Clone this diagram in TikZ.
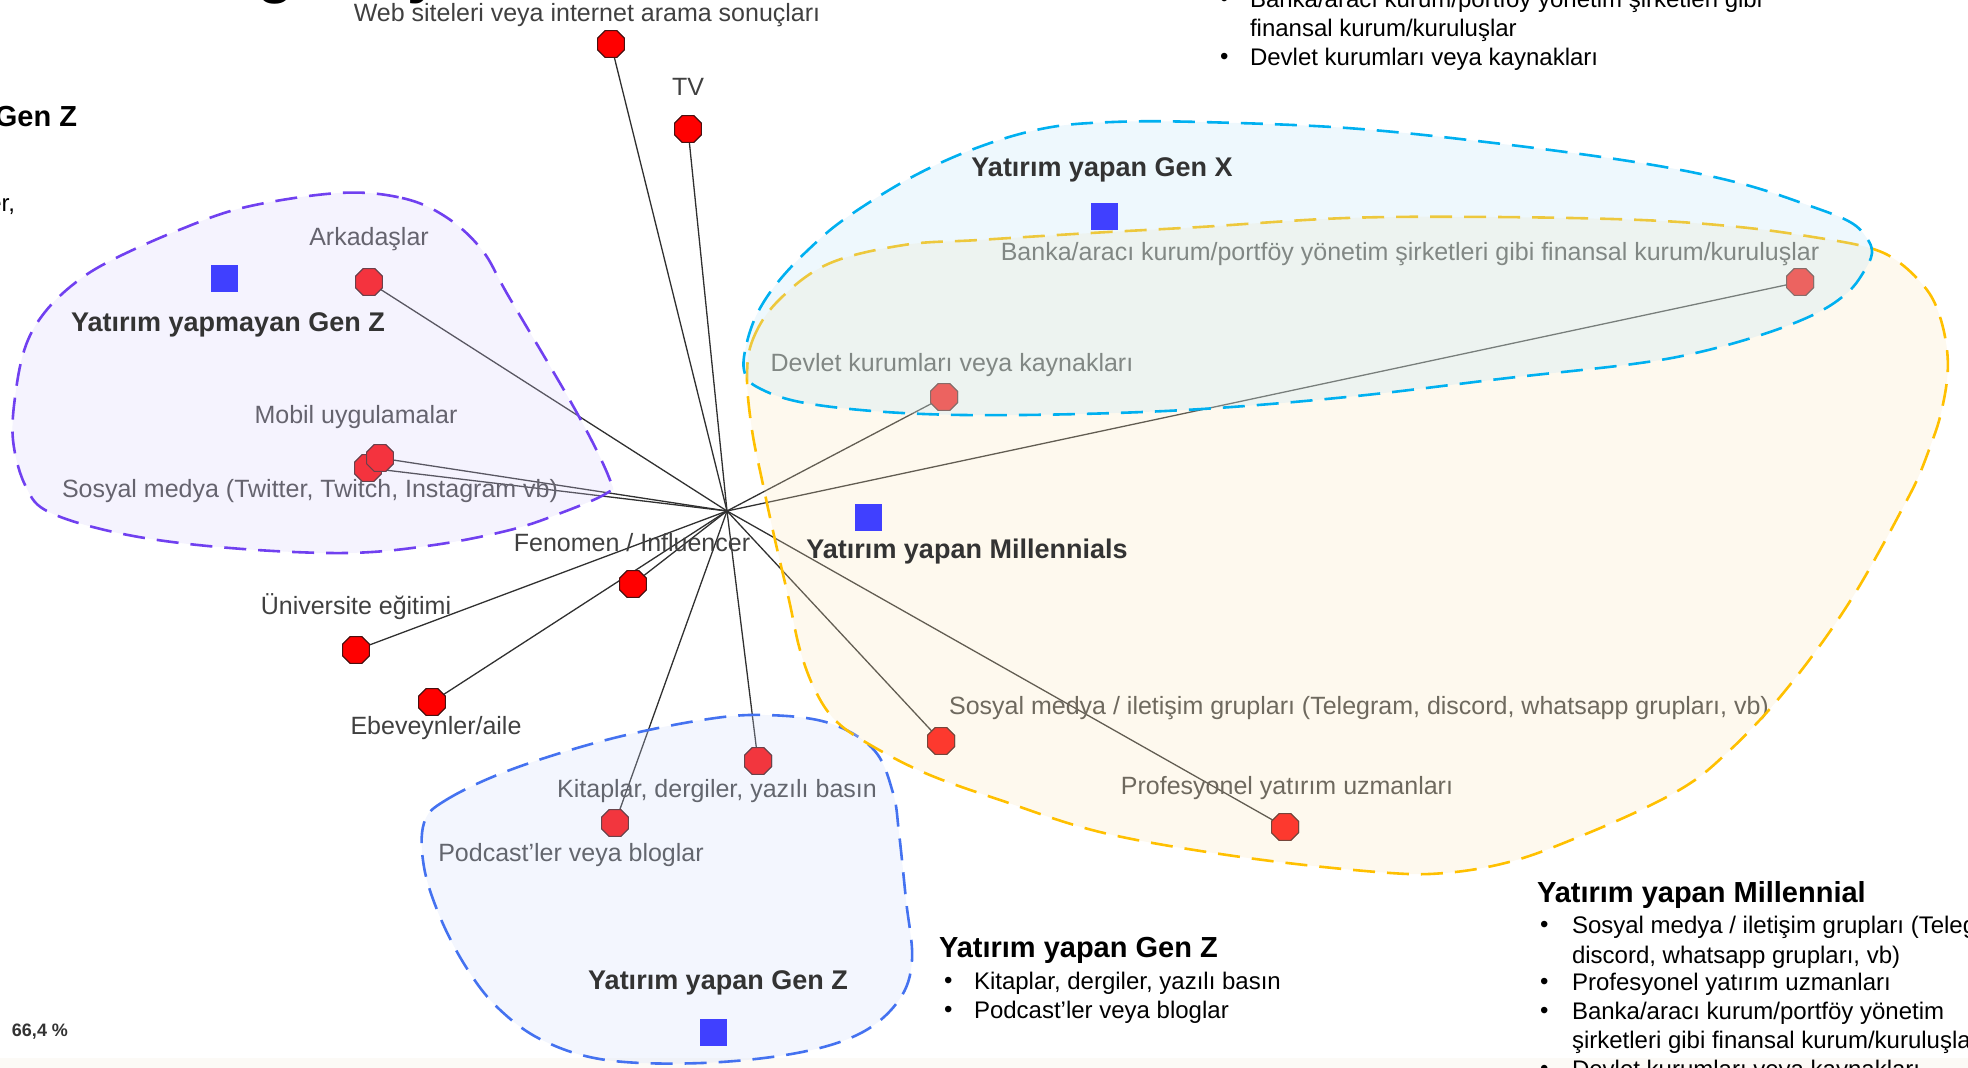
\documentclass[tikz,border=0pt]{standalone}
\usepackage{fontspec}
\setmainfont{Liberation Sans}
\usetikzlibrary{shapes.geometric}
\definecolor{nodered}{HTML}{FF0000}
\definecolor{nodeedge}{HTML}{4A1010}
\definecolor{edgegray}{HTML}{303030}
\definecolor{lblgray}{HTML}{404040}
\definecolor{grpgray}{HTML}{333333}
\definecolor{sqblue}{HTML}{4040FF}
\definecolor{purpleline}{HTML}{7040F0}
\definecolor{purplefill}{RGB}{215,207,251}
\definecolor{cyanline}{HTML}{00B0F0}
\definecolor{cyanfill}{RGB}{187,227,247}
\definecolor{yellowline}{HTML}{FFC000}
\definecolor{yellowfill}{RGB}{251,231,187}
\definecolor{blueline}{HTML}{4472F0}
\definecolor{bluefill}{RGB}{207,219,251}
\definecolor{stripbg}{HTML}{FCFAF6}
\begin{document}
\begin{tikzpicture}[x=0.5pt,y=-0.5pt,
  every node/.style={inner sep=0pt,outer sep=0pt},
  src/.style={regular polygon,regular polygon sides=8,minimum size=14.6pt,fill=nodered,draw=nodeedge,line width=0.5pt},
  lbl/.style={font=\fontsize{12.5}{15}\selectfont,text=lblgray},
  grp/.style={font=\fontsize{13.5}{16}\selectfont\bfseries,text=grpgray},
  gsq/.style={fill=sqblue,minimum width=13.5pt,minimum height=13.5pt},
  link/.style={draw=edgegray,line width=0.65pt},
  hull/.style={line width=1.3pt,dash pattern=on 11pt off 6pt,fill opacity=0.25,draw opacity=1},
  head/.style={font=\fontsize{14.5}{17}\selectfont\bfseries,text=black,anchor=west},
  item/.style={font=\fontsize{12}{14}\selectfont,text=black,anchor=west},
  pct/.style={font=\fontsize{9}{11}\selectfont\bfseries,text=grpgray}]
\useasboundingbox (0,0) rectangle (1968,1068);
\fill[stripbg] (0,1058) rectangle (1968,1068);

% title fragments cut at top
\node[font=\fontsize{30}{34}\selectfont\bfseries,anchor=base] (tg) at (276,-8) {g};
\node[font=\fontsize{30}{34}\selectfont\bfseries,anchor=base] (ty) at (424,-8) {y};

% hub
\coordinate (hub) at (727,511);

% source nodes
\node[src] (web) at (611,44) {};
\node[src] (tv) at (688,129) {};
\node[src] (ark) at (369,282) {};
\node[src] (sos) at (368,468) {};
\node[src] (mob) at (380,458) {};
\node[src] (fen) at (633,584) {};
\node[src] (uni) at (356,650) {};
\node[src] (ebe) at (432,702) {};
\node[src] (kit) at (758,761) {};
\node[src] (pod) at (615,823) {};
\node[src] (grp) at (941,741) {};
\node[src] (pro) at (1285,827) {};
\node[src] (dev) at (944,397) {};
\node[src] (ban) at (1800,282) {};

% links
\foreach \n in {web,tv,ark,sos,mob,fen,uni,ebe,kit,pod,grp,pro,dev,ban}
  \draw[link] (hub) -- (\n.center);
\foreach \n in {web,tv,ark,sos,mob,fen,uni,ebe,kit,pod,grp,pro,dev,ban}
  \node[src] at (\n) {};

% labels
\node[lbl] (lweb) at (587,15) {Web siteleri veya internet arama sonuçları};
\node[lbl] (ltv) at (688,87) {TV};
\node[lbl] (lark) at (369,239) {Arkadaşlar};
\node[lbl] (lmob) at (356,417) {Mobil uygulamalar};
\node[lbl] (lsos) at (310,491) {Sosyal medya (Twitter, Twitch, Instagram vb)};
\node[lbl] (lfen) at (632,543) {Fenomen / Influencer};
\node[lbl] (luni) at (356,607) {Üniversite eğitimi};
\node[lbl] (lebe) at (436,728) {Ebeveynler/aile};
\node[lbl] (lkit) at (717,791) {Kitaplar, dergiler, yazılı basın};
\node[lbl] (lpod) at (571,855) {Podcast'ler veya bloglar};
\node[lbl] (lgrp) at (1359,708) {Sosyal medya / iletişim grupları (Telegram, discord, whatsapp grupları, vb)};
\node[lbl] (lpro) at (1287,788) {Profesyonel yatırım uzmanları};
\node[lbl] (ldev) at (952,365) {Devlet kurumları veya kaynakları};
\node[lbl] (lban) at (1410,254) {Banka/aracı kurum/portföy yönetim şirketleri gibi finansal kurum/kuruluşlar};

% hulls
\path[hull,draw=purpleline,fill=purplefill] plot[smooth cycle,tension=0.6] coordinates {
 (339,193) (402,198) (446,217) (482,250) (509,297) (577,413) (610,480) (607,493)
 (561,513) (510,530) (434,545) (347,553) (230,548) (128,535) (51,513) (26,487)
 (13,440) (16,390) (26,345) (45,312) (75,283) (112,260) (179,230) (246,207)};
\path[hull,draw=blueline,fill=bluefill] plot[smooth cycle,tension=0.6] coordinates {
 (424,823) (446,800) (510,770) (606,740) (702,720) (765,715) (829,723) (874,750)
 (893,793) (899,833) (906,900) (912,960) (899,1000) (861,1033) (797,1053) (702,1063)
 (606,1060) (542,1040) (497,1007) (466,967) (440,917) (424,867)};
\path[hull,draw=yellowline,fill=yellowfill] plot[smooth cycle,tension=0.6] coordinates {
 (747,377) (753,339) (778,301) (828,264) (904,245) (979,240) (1091,233) (1200,227)
 (1347,218) (1494,217) (1641,220) (1739,227) (1813,237) (1870,248) (1900,263) (1927,290)
 (1940,317) (1947,350) (1947,380) (1940,417) (1930,447) (1917,480) (1900,513) (1880,550)
 (1857,590) (1833,627) (1807,663) (1780,697) (1757,723) (1730,750) (1695,780) (1649,806)
 (1581,836) (1513,861) (1445,873) (1377,872) (1241,857) (1104,833)
 (1000,800) (925,773) (867,743) (835,720) (815,690) (800,650) (789,600) (775,540)
 (762,480) (752,430)};
\path[hull,draw=cyanline,fill=cyanfill] plot[smooth cycle,tension=0.6] coordinates {
 (744,370) (747,342) (758,312) (778,282) (808,250) (846,218) (912,177) (979,147)
 (1046,128) (1113,122) (1200,122) (1347,128) (1494,143) (1641,163) (1739,183) (1813,207)
 (1850,222) (1866,237) (1872,253) (1863,273) (1847,293) (1817,313) (1767,333) (1700,352)
 (1633,364) (1508,378) (1347,397) (1185,410) (1023,415) (902,413) (805,403) (757,387)};

% group markers and labels
\node[gsq] (sqz) at (224,279) {};
\node[grp] (gz) at (228,325) {Yatırım yapmayan Gen Z};
\node[gsq] (sqx) at (1104,217) {};
\node[grp] (gx) at (1102,170) {Yatırım yapan Gen X};
\node[gsq] (sqm) at (868,518) {};
\node[grp] (gm) at (967,552) {Yatırım yapan Millennials};
\node[gsq] (sqy) at (713,1032) {};
\node[grp] (gy) at (718,983) {Yatırım yapan Gen Z};

% left fragments
\node[head,anchor=east] (fgz) at (77,117) {Gen Z};
\node[item,anchor=east] (fer) at (15,207) {er,};

% percentage
\node[pct] (pc) at (40,1032) {66,4 \%};

% top right block
\node[item] (tb1) at (1220,1) {•};
\node[item] (tt1) at (1250,1) {Banka/aracı kurum/portföy yönetim şirketleri gibi};
\node[item] (tt2) at (1250,30) {finansal kurum/kuruluşlar};
\node[item] (tb3) at (1220,59) {•};
\node[item] (tt3) at (1250,59) {Devlet kurumları veya kaynakları};

% Gen Z block
\node[head] (zh) at (939,950) {Yatırım yapan Gen Z};
\node[item] (zb1) at (944,983) {•};
\node[item] (zt1) at (974,983) {Kitaplar, dergiler, yazılı basın};
\node[item] (zb2) at (944,1012) {•};
\node[item] (zt2) at (974,1012) {Podcast'ler veya bloglar};

% Millennial block
\node[head] (mh) at (1537,895) {Yatırım yapan Millennial};
\node[item] (mb1) at (1540,927) {•};
\node[item] (mt1) at (1572,927) {Sosyal medya / iletişim grupları (Telegram,};
\node[item] (mt2) at (1572,957) {discord, whatsapp grupları, vb)};
\node[item] (mb3) at (1540,984) {•};
\node[item] (mt3) at (1572,984) {Profesyonel yatırım uzmanları};
\node[item] (mb4) at (1540,1013) {•};
\node[item] (mt4) at (1572,1013) {Banka/aracı kurum/portföy yönetim};
\node[item] (mt5) at (1572,1042) {şirketleri gibi finansal kurum/kuruluşlar};
\node[item] (mb6) at (1540,1071) {•};
\node[item] (mt6) at (1572,1071) {Devlet kurumları veya kaynakları};
\end{tikzpicture}
\end{document}
